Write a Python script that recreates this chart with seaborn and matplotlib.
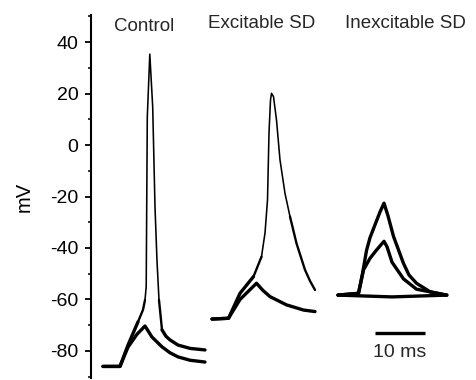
import numpy as np
import matplotlib
matplotlib.use("Agg")
import matplotlib.pyplot as plt
from matplotlib.ticker import MultipleLocator
import seaborn as sns

# time in ms (the three panels share one time axis), voltage in mV
ctrl_sub_t = [2.4, 5.8, 7.4, 9.2, 10.8, 12.2, 14.2, 15.8, 17.4, 19.8, 22.8]
ctrl_sub_v = [-86, -86, -78.5, -73.5, -70.3, -74.6, -78.4, -80.7, -82.3, -83.6, -84.3]

ctrl_ap_t = [2.4, 5.8, 7.4, 9.4, 10.4, 10.8, 11.04, 11.26, 11.76, 12.34, 12.8,
             13.2, 13.6, 14.2, 15.0, 15.8, 17.4, 19.8, 22.8]
ctrl_ap_v = [-86, -86, -77.7, -68.7, -64, -60.2, -55, 10.9, 35.3, 14.8, -24.1,
             -45, -60.2, -71.8, -74.3, -75.7, -77.7, -79.0, -79.6]

exc_sub_t = [24.2, 27.5, 29.8, 33.1, 34.4, 35.8, 39.1, 42.5, 44.8]
exc_sub_v = [-67.6, -67.3, -60.0, -53.7, -56.5, -58.9, -62.1, -64.1, -64.7]

exc_ap_t = [24.2, 27.5, 29.8, 32.5, 34.1, 34.8, 35.3, 35.6, 35.9, 36.1, 36.5,
            37.1, 37.8, 38.8, 39.8, 41.1, 42.8, 43.8, 44.8]
exc_ap_v = [-67.6, -67.3, -57.6, -51.1, -43.4, -34.2, -21.4, 4.7, 17.5, 20.1, 18.8,
            9.7, -5.8, -18.8, -27.8, -38.2, -48.5, -52.8, -56.3]

inx_flat_t = [49.4, 60.2, 71.2]
inx_flat_v = [-58.3, -59.0, -58.3]

inx_big_t = [49.4, 53.5, 54.3, 55.1, 55.8, 56.8, 57.8, 58.6, 59.4, 60.5, 62.5,
             63.6, 65.1, 67.8, 71.1]
inx_big_v = [-58.3, -57.6, -50.0, -41.0, -36.0, -31.0, -26.0, -22.6, -27.5, -35.5,
             -46.0, -50.5, -53.7, -57.0, -58.3]

inx_mid_t = [49.4, 53.5, 54.5, 55.8, 57.1, 58.6, 59.2, 60.2, 62.5, 65.1, 71.1]
inx_mid_v = [-58.3, -57.6, -48.5, -44.0, -40.8, -37.4, -39.5, -45.5, -52.0, -56.0, -58.3]

panel_titles = ["Control", "Excitable SD", "Inexcitable SD"]
title_t = [10.7, 34.1, 62.8]
title_v = [44.3, 45.4, 45.4]

scale_bar_ms = 10

sns.set_theme(style="ticks")
plt.rcParams["font.family"] = ["Liberation Sans", "DejaVu Sans"]
plt.rcParams["axes.unicode_minus"] = False

fig = plt.figure(figsize=(4.76, 3.80), dpi=100)
ax = fig.add_axes([91 / 476, 2 / 380, 385 / 476, 363 / 380])

THICK, MID, THIN = 2.4, 1.7, 1.15

def trace(t, v, lw):
    sns.lineplot(x=t, y=v, ax=ax, color="black", linewidth=lw,
                 sort=False, estimator=None, solid_capstyle="round")

# spike traces: slow noisy parts drawn heavier than the fast spike itself
trace(ctrl_ap_t[:4], ctrl_ap_v[:4], THICK)
trace(ctrl_ap_t[3:6], ctrl_ap_v[3:6], MID)
trace(ctrl_ap_t[5:13], ctrl_ap_v[5:13], THIN)
trace(ctrl_ap_t[12:14], ctrl_ap_v[12:14], MID)
trace(ctrl_ap_t[13:], ctrl_ap_v[13:], THICK)

trace(exc_ap_t[:4], exc_ap_v[:4], THICK)
trace(exc_ap_t[3:5], exc_ap_v[3:5], MID)
trace(exc_ap_t[4:15], exc_ap_v[4:15], THIN)
trace(exc_ap_t[14:], exc_ap_v[14:], MID)

for t, v in [(ctrl_sub_t, ctrl_sub_v), (exc_sub_t, exc_sub_v),
             (inx_flat_t, inx_flat_v), (inx_big_t, inx_big_v), (inx_mid_t, inx_mid_v)]:
    trace(t, v, THICK)

for name, x, y in zip(panel_titles, title_t, title_v):
    ax.text(x, y, name, ha="center", va="baseline", fontsize=13.5, clip_on=False)

# scale bar
bar_x0 = 56.8
ax.plot([bar_x0, bar_x0 + scale_bar_ms], [-73.1, -73.1], color="black", linewidth=2.4,
        solid_capstyle="butt")
ax.text(bar_x0 + scale_bar_ms / 2, -82.4, f"{scale_bar_ms} ms", ha="center",
        va="baseline", fontsize=14)

ax.set_xlim(0, 77)
ax.set_ylim(-90.5, 50.5)
ax.yaxis.set_minor_locator(MultipleLocator(10))
ax.set_yticks(np.arange(-80, 41, 20))
ax.set_xticks([])
ax.tick_params(axis="y", which="major", direction="out", length=4, width=1.3,
               labelsize=14, pad=5, color="black", labelcolor="black")
ax.tick_params(axis="y", which="minor", direction="out", length=2.5, width=1.1,
               color="black")
ax.set_ylabel("mV", fontsize=14.5, color="black")
ax.yaxis.set_label_coords(-0.15, 0.5)

sns.despine(ax=ax, bottom=True)
ax.spines["left"].set_linewidth(1.5)
ax.spines["left"].set_color("black")
ax.set_facecolor("white")

fig.savefig("out.png", dpi=100)
